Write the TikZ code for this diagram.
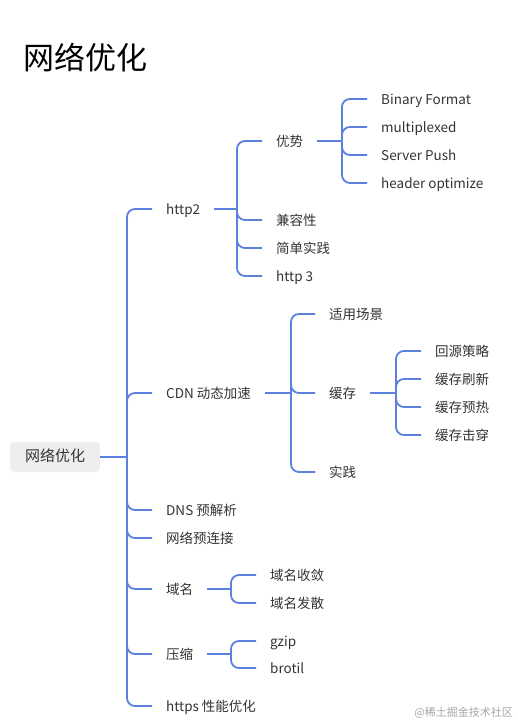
\documentclass[tikz,border=0pt]{standalone}
\usepackage{fontspec}
\setmainfont{Noto Sans CJK SC}
\usepackage{tikz}
\usetikzlibrary{positioning}
\definecolor{linkblue}{RGB}{92,128,222}
\definecolor{rootgray}{RGB}{238,238,238}

\begin{document}
\begin{tikzpicture}[x=1pt, y=-1pt, font=\fontsize{13.5}{16}\selectfont,
  item/.style={anchor=west, inner xsep=14pt, inner ysep=2pt, text height=11.5pt, text depth=1.5pt, text=black!80},
  link/.style={draw=linkblue, line width=1.8pt, rounded corners=8pt}]
  \useasboundingbox (0,0) rectangle (518,725);

  \node[anchor=west, inner sep=0pt, font=\fontsize{31}{36}\selectfont] (title) at (23,58) {网络优化};
  \node[fill=rootgray, rounded corners=4pt, minimum width=90pt, minimum height=30pt, text height=11pt, text depth=2pt, text=black!80, font=\fontsize{15}{18}\selectfont] (root) at (55,457) {网络优化};

  % first level
  \node[item] (http2) at (152,209) {http2};
  \node[item] (cdn) at (152,393) {CDN 动态加速};
  \node[item] (dns) at (152,510) {DNS 预解析};
  \node[item] (prelink) at (152,538) {网络预连接};
  \node[item] (domain) at (152,589) {域名};
  \node[item] (compress) at (152,654) {压缩};
  \node[item] (https) at (152,706) {https 性能优化};

  % http2
  \node[item] (youshi) at (262,141) {优势};
  \node[item] (compat) at (262,220) {兼容性};
  \node[item] (simple) at (262,248) {简单实践};
  \node[item] (http3) at (262,276) {http 3};
  \node[item] (binary) at (367,99) {Binary Format};
  \node[item] (multi) at (367,127) {multiplexed};
  \node[item] (push) at (367,155) {Server Push};
  \node[item] (header) at (367,183) {header optimize};

  % cdn
  \node[item] (scene) at (315,314) {适用场景};
  \node[item] (cache) at (315,393) {缓存};
  \node[item] (practice) at (315,472) {实践};
  \node[item] (back) at (421,351) {回源策略};
  \node[item] (refresh) at (421,379) {缓存刷新};
  \node[item] (warm) at (421,407) {缓存预热};
  \node[item] (pierce) at (421,435) {缓存击穿};

  % domain, compress
  \node[item] (merge) at (256,575) {域名收敛};
  \node[item] (spread) at (256,603) {域名发散};
  \node[item] (gzip) at (256,641) {gzip};
  \node[item] (brotil) at (256,668) {brotil};

  \coordinate (j0) at (127,457);
  \coordinate (jh) at (237,209);
  \coordinate (jy) at (342,141);
  \coordinate (jc) at (291,393);
  \coordinate (jk) at (396,393);
  \coordinate (jd) at (231,589);
  \coordinate (jz) at (231,654);

  \draw[link] (root.east) -- (j0);
  \foreach \c in {http2,cdn,dns,prelink,domain,compress,https}
    \draw[link] (j0) |- (\c.west);

  \draw[link] (http2.east) -- (jh);
  \foreach \c in {youshi,compat,simple,http3}
    \draw[link] (jh) |- (\c.west);
  \draw[link] (youshi.east) -- (jy);
  \foreach \c in {binary,multi,push,header}
    \draw[link] (jy) |- (\c.west);

  \draw[link] (cdn.east) -- (jc);
  \foreach \c in {scene,cache,practice}
    \draw[link] (jc) |- (\c.west);
  \draw[link] (cache.east) -- (jk);
  \foreach \c in {back,refresh,warm,pierce}
    \draw[link] (jk) |- (\c.west);

  \draw[link] (domain.east) -- (jd);
  \foreach \c in {merge,spread}
    \draw[link] (jd) |- (\c.west);
  \draw[link] (compress.east) -- (jz);
  \foreach \c in {gzip,brotil}
    \draw[link] (jz) |- (\c.west);

  \node[anchor=east, inner sep=0pt, text=black!35, font=\fontsize{11}{13}\selectfont] (mark) at (513,713) {@稀土掘金技术社区};
\end{tikzpicture}
\end{document}
